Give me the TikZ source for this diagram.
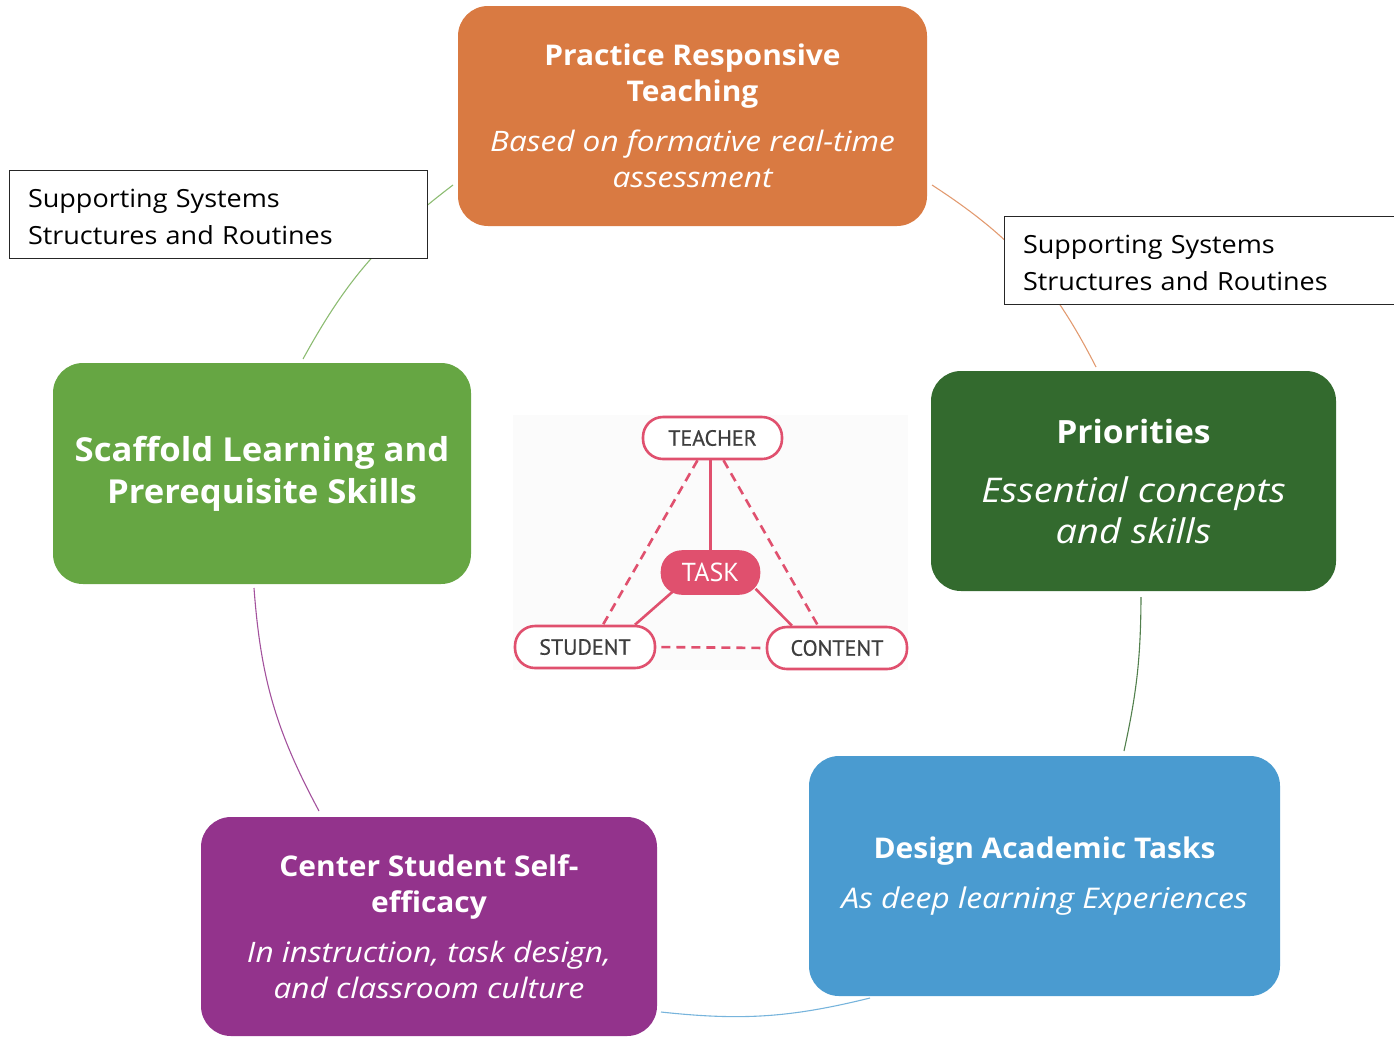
\documentclass[tikz,border=0pt]{standalone}
\usepackage{fontspec}
\setmainfont{Open Sans}[
  UprightFeatures={FakeStretch=1.08},
  BoldFeatures={FakeStretch=1.05},
  ItalicFeatures={FakeStretch=1.12}]
\newfontfamily\pillfont{PT Sans}[FakeBold=0.6]
\newfontfamily\taskfont{PT Sans}
\usetikzlibrary{calc}

\definecolor{cOrange}{HTML}{D97A42}
\definecolor{cLeaf}{HTML}{66A643}
\definecolor{cForest}{HTML}{336A2E}
\definecolor{cSky}{HTML}{4A9BD0}
\definecolor{cPlum}{HTML}{93338C}
\definecolor{cRose}{HTML}{E0506E}
\definecolor{cInk}{HTML}{3E3E3E}

% one line of a box title / subtitle
\newcommand\hb[2]{{\bfseries\fontsize{#1}{#1}\selectfont #2}}
\newcommand\hi[2]{{\itshape\fontsize{#1}{#1}\selectfont #2}}

\begin{document}
\begin{tikzpicture}[x=1pt,y=-1pt,
  bigbox/.style={rounded corners=30pt, fill=#1, text=white, align=center, inner sep=0pt},
  notebox/.style={draw=black!85, line width=1pt, fill=white, align=left, inner xsep=19pt, inner ysep=0pt,
      font=\fontsize{25}{37}\selectfont},
  ring/.style={line width=1.1pt},
  pill/.style={draw=cRose, line width=2.6pt, fill=white, rounded corners=20pt, minimum height=42pt,
      inner sep=0pt, text=cInk, font=\pillfont\fontsize{22}{22}\selectfont},
  pillfill/.style={pill, fill=cRose, text=white, font=\taskfont\fontsize{26}{26}\selectfont},
  tie/.style={draw=cRose, line width=2.6pt},
  tiedash/.style={tie, dash pattern=on 9pt off 6pt}
]
\useasboundingbox (0,0) rectangle (1394,1042);
\clip (0,0) rectangle (1394,1042);

% end points of the ring segments
\coordinate (r1a) at (453,185);  \coordinate (r1b) at (303,359);
\coordinate (r2a) at (932,185);  \coordinate (r2b) at (1096,367);
\coordinate (r3a) at (1141,597); \coordinate (r3b) at (1124,751);
\coordinate (r4a) at (254,588);  \coordinate (r4b) at (319,811);
\coordinate (r5a) at (661,1012); \coordinate (r5b) at (870,998);

\draw[ring, draw=cLeaf!75] (r1a) to[bend right=12] (r1b);
\draw[ring, draw=cOrange!75] (r2a) to[bend left=15] (r2b);
\draw[ring, draw=cForest!85] (r3a) to[bend left=6] (r3b);
\draw[ring, draw=cPlum!85] (r4a) to[bend right=12] (r4b);
\draw[ring, draw=cSky!75] (r5a) to[bend right=10] (r5b);

% five practice boxes
\node[bigbox=cOrange, minimum width=469pt, minimum height=220pt,
      font=\fontsize{28}{36}\selectfont] (teach) at (692.5,116)
  {\hb{28.5}{Practice Responsive}\\\hb{28.5}{Teaching}\\[14pt]
   \hi{28.2}{Based on formative real-time}\\\hi{28.2}{assessment}};
\node[bigbox=cLeaf, minimum width=418pt, minimum height=221pt,
      font=\fontsize{33}{42}\selectfont] (scaf) at (262,473.5)
  {\hb{33}{Scaffold Learning and}\\\hb{33}{Prerequisite Skills}};
\node[bigbox=cForest, minimum width=405pt, minimum height=220pt,
      font=\fontsize{32}{41}\selectfont] (prio) at (1133.5,481)
  {\hb{32}{Priorities}\\[18pt]
   \hi{34}{Essential concepts}\\\hi{34}{and skills}};
\node[bigbox=cSky, minimum width=471pt, minimum height=240pt,
      font=\fontsize{28}{36}\selectfont] (design) at (1044.5,876)
  {\hb{28.5}{Design Academic Tasks}\\[14pt]
   \hi{28.5}{As deep learning Experiences}};
\node[bigbox=cPlum, minimum width=456pt, minimum height=219pt,
      font=\fontsize{28}{36}\selectfont] (self) at (429,926.5)
  {\hb{28.5}{Center Student Self-}\\\hb{28.5}{efficacy}\\[14pt]
   \hi{28.2}{In instruction, task design,}\\\hi{28.2}{and classroom culture}};

% supporting systems notes
\node[notebox, minimum width=418pt, minimum height=88pt, text width=380pt] (noteL) at (218,214)
  {\rule{0pt}{25pt}Supporting Systems\\Structures and Routines};
\node[notebox, minimum width=426pt, minimum height=88pt, text width=388pt] (noteR) at (1217,260)
  {\rule{0pt}{25pt}Supporting Systems\\Structures and Routines};

% teacher / student / content triangle
\fill[black!1.5] (513,415) rectangle (908,670);
\node[pill, minimum width=139pt] (teacher) at (712.5,438) {TEACHER};
\node[pillfill, minimum width=97pt] (task) at (710.5,572.5) {TASK};
\node[pill, minimum width=140pt] (student) at (585,647) {STUDENT};
\node[pill, minimum width=140pt] (content) at (837,648) {CONTENT};

\draw[tie] (task.north |- teacher.south) -- (task.north);
\draw[tie] ([xshift=-38pt,yshift=3pt]task.south) -- ([xshift=50pt]student.north);
\draw[tie] ([xshift=45pt,yshift=6pt]task.south) -- ([xshift=-45pt]content.north);
\draw[tiedash] ([xshift=-15pt]teacher.south) -- ([xshift=18pt]student.north);
\draw[tiedash] ([xshift=11pt]teacher.south) -- ([xshift=-19pt]content.north);
\draw[tiedash, shorten <=5pt, shorten >=5pt] (student.east) -- (content.west);
\end{tikzpicture}
\end{document}
